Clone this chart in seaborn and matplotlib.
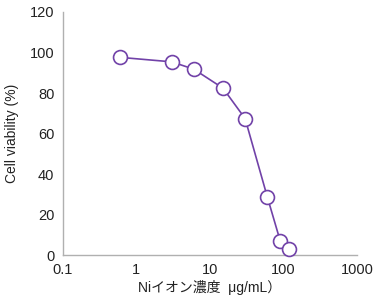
import matplotlib
matplotlib.use("Agg")
import matplotlib.pyplot as plt
import seaborn as sns
import pandas as pd

conc = [0.6, 3, 6, 15, 30, 60, 90, 120]
viability = [97.6, 95.4, 91.8, 82.4, 67.4, 28.8, 7.0, 2.8]
err = [0, 0, 2.0, 0, 0, 0, 0, 0]
x_ticks = [0.1, 1, 10, 100, 1000]
x_tick_labels = ["0.1", "1", "10", "100", "1000"]
y_ticks = [0, 20, 40, 60, 80, 100, 120]

sns.set_style("white")
plt.rcParams['font.family'] = ['Liberation Sans', 'Noto Sans CJK JP', 'DejaVu Sans']

purple = "#7142A8"
df = pd.DataFrame({"conc": conc, "viability": viability})

fig = plt.figure(figsize=(3.74, 3.07), dpi=100)
ax = fig.add_axes([0.168, 0.169, 0.787, 0.792])

ax.errorbar(conc, viability, yerr=err, fmt="none", ecolor="#333333", elinewidth=1, capsize=3, zorder=2)
sns.lineplot(data=df, x="conc", y="viability", ax=ax, color=purple, linewidth=1.2,
             marker="o", markersize=10, markerfacecolor="white", markeredgecolor=purple,
             markeredgewidth=1.2, clip_on=False, zorder=3)

ax.set_xscale("log")
ax.set_xlim(0.1, 1000)
ax.set_ylim(0, 120)
ax.set_xticks(x_ticks)
ax.set_xticklabels(x_tick_labels)
ax.set_yticks(y_ticks)
ax.minorticks_off()

for s in ["top", "right"]:
    ax.spines[s].set_visible(False)
for s in ["left", "bottom"]:
    ax.spines[s].set_color("#b0b0b0")
    ax.spines[s].set_linewidth(1.0)

ax.tick_params(axis="both", which="major", direction="out", length=4, width=1,
               color="#b0b0b0", labelsize=10.5, labelcolor="#222222", pad=2)
ax.set_xlabel("Niイオン濃度  μg/mL）", fontsize=10, color="#222222", labelpad=2)
ax.set_ylabel("Cell viability (%)", fontsize=10, color="#222222", labelpad=8)

fig.savefig("out.png", dpi=100)
